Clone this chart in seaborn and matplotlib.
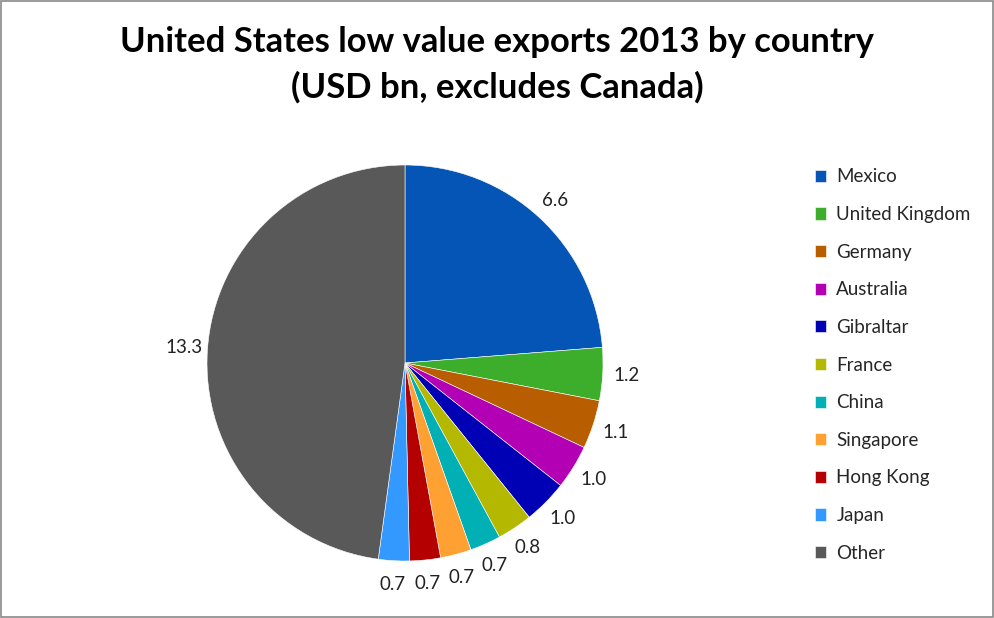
import matplotlib
matplotlib.use("Agg")
import matplotlib.pyplot as plt
import seaborn as sns
from matplotlib.patches import Rectangle

countries = ["Mexico", "United Kingdom", "Germany", "Australia", "Gibraltar",
             "France", "China", "Singapore", "Hong Kong", "Japan", "Other"]
values = [6.6, 1.2, 1.1, 1.0, 1.0, 0.8, 0.7, 0.7, 0.7, 0.7, 13.3]
colors = ["#0455B6", "#3DAE2B", "#B85E00", "#B400B4", "#0000B4",
          "#B4B800", "#00B0B4", "#FFA033", "#B40000", "#3399FF", "#595959"]
title = "United States low value exports 2013 by country\n(USD bn, excludes Canada)"

sns.set_theme(style="white")
plt.rcParams["font.family"] = ["Lato", "DejaVu Sans"]

W, H = 994, 618
fig = plt.figure(figsize=(W / 100, H / 100), dpi=100)
cx, cy, r = 405, 363, 198
ax = fig.add_axes([(cx - r) / W, (H - cy - r) / H, 2 * r / W, 2 * r / H])

it = iter(values)
wedges, texts, autotexts = ax.pie(
    values, colors=colors, startangle=90, counterclock=False,
    autopct=lambda p: f"{next(it):.1f}", pctdistance=1.12,
    wedgeprops=dict(linewidth=0.4, edgecolor="white"),
    textprops=dict(fontsize=13.5, color="#222222"))
ax.set_aspect("equal")
ax.set_xlim(-1, 1)
ax.set_ylim(-1, 1)

fig.text(0.5, 1 - 65 / H, title, ha="center", va="center", fontsize=24.9,
         fontweight="bold", color="black", linespacing=1.5)

leg = fig.legend(wedges, countries, loc="upper left",
                 bbox_to_anchor=(807 / W, 1 - 161 / H), frameon=False,
                 fontsize=13.5, handlelength=0.62, handleheight=0.62,
                 handletextpad=0.55, labelspacing=1.1, borderaxespad=0)

fig.patches.append(Rectangle((0.001, 0.001), 0.998, 0.997, transform=fig.transFigure,
                             fill=False, edgecolor="#898989", linewidth=1.2))

fig.savefig("out.png", dpi=100, facecolor="white")
